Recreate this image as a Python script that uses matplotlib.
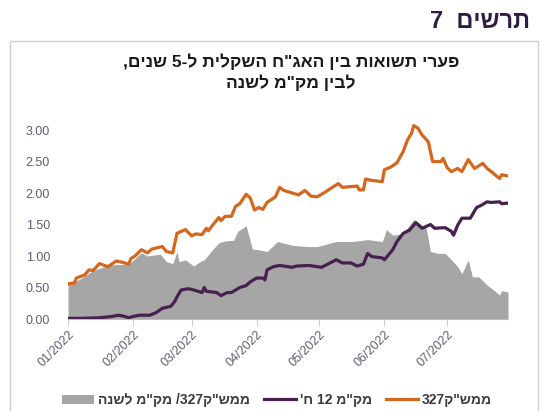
import matplotlib
matplotlib.use("Agg")
import matplotlib.pyplot as plt
import matplotlib.dates as mdates
from matplotlib.patches import Rectangle, Patch
from matplotlib.lines import Line2D
import pandas as pd

plt.rcParams['font.family'] = ['Liberation Sans', 'DejaVu Sans']

# ---- data ----
orange_dates = ["2022-01-01", "2022-01-04", "2022-01-05", "2022-01-09", "2022-01-11", "2022-01-13",
                "2022-01-16", "2022-01-20", "2022-01-24", "2022-01-27", "2022-01-30", "2022-01-31",
                "2022-02-02", "2022-02-05", "2022-02-08", "2022-02-10", "2022-02-15", "2022-02-17",
                "2022-02-20", "2022-02-22", "2022-02-26", "2022-03-01", "2022-03-03", "2022-03-06",
                "2022-03-08", "2022-03-09", "2022-03-11", "2022-03-14", "2022-03-15", "2022-03-17",
                "2022-03-20", "2022-03-22", "2022-03-24", "2022-03-27", "2022-03-29", "2022-03-31",
                "2022-04-02", "2022-04-04", "2022-04-06", "2022-04-10", "2022-04-12", "2022-04-14",
                "2022-04-21", "2022-04-24", "2022-04-27", "2022-04-30", "2022-05-04", "2022-05-10",
                "2022-05-12", "2022-05-19", "2022-05-20", "2022-05-22", "2022-05-23", "2022-05-26",
                "2022-05-31", "2022-06-01", "2022-06-04", "2022-06-07", "2022-06-10", "2022-06-12",
                "2022-06-14", "2022-06-15", "2022-06-17", "2022-06-19", "2022-06-22", "2022-06-24",
                "2022-06-28", "2022-06-29", "2022-07-01", "2022-07-03", "2022-07-06", "2022-07-08",
                "2022-07-11", "2022-07-14", "2022-07-18", "2022-07-20", "2022-07-22", "2022-07-26",
                "2022-07-27", "2022-07-30"]
orange_vals = [0.56, 0.57, 0.65, 0.70, 0.78, 0.77,
               0.88, 0.83, 0.92, 0.90, 0.87, 0.96,
               1.00, 1.10, 1.05, 1.11, 1.15, 1.07,
               1.05, 1.36, 1.42, 1.32, 1.35, 1.34,
               1.44, 1.40, 1.49, 1.61, 1.56, 1.63,
               1.63, 1.79, 1.83, 1.98, 1.92, 1.73,
               1.77, 1.74, 1.85, 1.94, 2.09, 2.04,
               1.97, 2.04, 1.95, 1.94, 2.02, 2.15,
               2.09, 2.11, 2.05, 2.05, 2.22, 2.20,
               2.18, 2.37, 2.41, 2.48, 2.66, 2.84,
               2.95, 3.07, 3.03, 2.92, 2.81, 2.50,
               2.50, 2.55, 2.40, 2.34, 2.39, 2.34,
               2.53, 2.39, 2.47, 2.39, 2.34, 2.23,
               2.29, 2.27]

purple_dates = ["2022-01-01", "2022-01-07", "2022-01-16", "2022-01-22", "2022-01-25", "2022-01-27",
                "2022-01-30", "2022-02-01", "2022-02-04", "2022-02-09", "2022-02-12", "2022-02-15",
                "2022-02-19", "2022-02-21", "2022-02-22", "2022-02-24", "2022-02-27", "2022-03-01",
                "2022-03-02", "2022-03-06", "2022-03-07", "2022-03-08", "2022-03-13", "2022-03-15",
                "2022-03-18", "2022-03-20", "2022-03-24", "2022-03-27", "2022-03-29", "2022-04-01",
                "2022-04-04", "2022-04-05", "2022-04-06", "2022-04-09", "2022-04-12", "2022-04-18",
                "2022-04-20", "2022-04-26", "2022-05-02", "2022-05-09", "2022-05-12", "2022-05-16",
                "2022-05-19", "2022-05-22", "2022-05-24", "2022-05-26", "2022-05-31", "2022-06-01",
                "2022-06-05", "2022-06-07", "2022-06-10", "2022-06-13", "2022-06-16", "2022-06-19",
                "2022-06-23", "2022-06-25", "2022-06-30", "2022-07-03", "2022-07-04", "2022-07-06",
                "2022-07-08", "2022-07-12", "2022-07-15", "2022-07-17", "2022-07-20", "2022-07-22",
                "2022-07-26", "2022-07-27", "2022-07-30"]
purple_vals = [0.01, 0.01, 0.02, 0.04, 0.06, 0.05,
               0.02, 0.04, 0.06, 0.06, 0.10, 0.17,
               0.20, 0.28, 0.35, 0.46, 0.48, 0.47,
               0.46, 0.42, 0.50, 0.44, 0.42, 0.37,
               0.42, 0.42, 0.50, 0.53, 0.59, 0.65,
               0.65, 0.62, 0.78, 0.83, 0.85, 0.82,
               0.84, 0.85, 0.82, 0.94, 0.89, 0.89,
               0.84, 0.87, 1.04, 0.99, 0.97, 0.94,
               1.10, 1.23, 1.36, 1.41, 1.53, 1.44,
               1.50, 1.44, 1.45, 1.39, 1.33, 1.49,
               1.60, 1.60, 1.77, 1.80, 1.86, 1.85,
               1.86, 1.83, 1.84]

gray_dates = ["2022-01-01", "2022-01-06", "2022-01-13", "2022-01-21", "2022-01-30", "2022-02-05",
              "2022-02-08", "2022-02-14", "2022-02-17", "2022-02-20", "2022-02-22", "2022-02-23",
              "2022-02-26", "2022-03-02", "2022-03-05", "2022-03-07", "2022-03-11", "2022-03-14",
              "2022-03-17", "2022-03-21", "2022-03-23", "2022-03-27", "2022-03-30", "2022-04-02",
              "2022-04-06", "2022-04-11", "2022-04-18", "2022-04-25", "2022-04-30", "2022-05-09",
              "2022-05-17", "2022-05-24", "2022-05-31", "2022-06-02", "2022-06-05", "2022-06-10",
              "2022-06-15", "2022-06-21", "2022-06-23", "2022-06-27", "2022-06-30", "2022-07-03",
              "2022-07-06", "2022-07-08", "2022-07-11", "2022-07-13", "2022-07-16", "2022-07-20",
              "2022-07-22", "2022-07-26", "2022-07-27", "2022-07-30"]
gray_vals = [0.55, 0.62, 0.77, 0.86, 0.87, 1.05,
             1.00, 1.03, 0.91, 0.88, 1.07, 0.91,
             0.94, 0.84, 0.91, 0.94, 1.10, 1.21,
             1.24, 1.25, 1.39, 1.48, 1.11, 1.10,
             1.07, 1.23, 1.17, 1.15, 1.15, 1.23,
             1.23, 1.26, 1.23, 1.42, 1.33, 1.36,
             1.58, 1.44, 1.07, 1.04, 1.04, 0.94,
             0.83, 0.72, 0.94, 0.67, 0.67, 0.54,
             0.49, 0.38, 0.45, 0.43]

yticks = [0.0, 0.5, 1.0, 1.5, 2.0, 2.5, 3.0]
month_ticks = ["2022-01-01", "2022-02-01", "2022-03-01", "2022-04-01",
               "2022-05-01", "2022-06-01", "2022-07-01"]

# Hebrew strings given in visual (left-to-right display) order
label_orange = "327ק\"שממ"
label_purple = "'ח 12 מ\"קמ"
label_gray = "הנשל מ\"קמ /327ק\"שממ"
title_main = "7  םישרת"
title_line1 = ",םינש 5-ל תילקשה ח\"גאה ןיב תואושת ירעפ"
title_line2 = "הנשל מ\"קמ ןיבל"

# ---- colours ----
c_orange = "#d5661e"
c_purple = "#46204f"
c_gray = "#a6a6a6"
c_tick = "#5a5f72"

W, H = 543, 411
fig = plt.figure(figsize=(W / 100, H / 100), dpi=100)

# frame around the chart
fig.patches.append(Rectangle((10 / W, -0.01), (538 - 10) / W, 1 - 41 / H + 0.01,
                             transform=fig.transFigure, fill=False,
                             edgecolor="#d0d0d0", linewidth=1.0))

fig.text(530 / W, 1 - 21 / H, title_main, ha="right", va="center",
         fontsize=17, fontweight="bold", color="#2f1c45")
fig.text(291 / W, 1 - 62 / H, title_line1, ha="center", va="center",
         fontsize=12.5, fontweight="bold", color="#1a1a1a")
fig.text(291 / W, 1 - 83 / H, title_line2, ha="center", va="center",
         fontsize=12.5, fontweight="bold", color="#1a1a1a")

ax_left, ax_right = 68, 508
y0_px, per_unit = 319, 63.0
ymax = 3.5
ax_bottom = 1 - y0_px / H
ax_height = ymax * per_unit / H
ax = fig.add_axes([ax_left / W, ax_bottom, (ax_right - ax_left) / W, ax_height])

gd = pd.to_datetime(gray_dates)
od = pd.to_datetime(orange_dates)
pdts = pd.to_datetime(purple_dates)

ax.fill_between(gd, 0, gray_vals, color=c_gray, linewidth=0, zorder=1)
ax.plot(pdts, purple_vals, color=c_purple, linewidth=2.3, zorder=3)
ax.plot(od, orange_vals, color=c_orange, linewidth=2.3, zorder=3)

ax.set_xlim(pd.Timestamp("2022-01-01"), pd.Timestamp("2022-07-30"))
ax.set_ylim(0, ymax)
ax.set_yticks(yticks)
ax.set_yticklabels([f"{v:.2f}" for v in yticks])
ax.set_xticks(pd.to_datetime(month_ticks))
ax.xaxis.set_major_formatter(mdates.DateFormatter("%m/%Y"))

for s in ["top", "right", "left"]:
    ax.spines[s].set_visible(False)
ax.spines["bottom"].set_color("#d0d0d0")
ax.spines["bottom"].set_zorder(0)
ax.tick_params(axis="y", length=0, pad=13, labelsize=9, labelcolor=c_tick)
ax.tick_params(axis="x", length=5, color="#d0d0d0", labelsize=9, labelcolor=c_tick, pad=2)
for lab in ax.get_xticklabels():
    lab.set_rotation(45)
    lab.set_ha("right")
    lab.set_rotation_mode("anchor")

handles = [Patch(facecolor=c_gray, edgecolor="none"),
           Line2D([], [], color=c_purple, linewidth=2.3),
           Line2D([], [], color=c_orange, linewidth=2.3)]
labels = [label_gray, label_purple, label_orange]
leg = fig.legend(handles, labels, loc="center", bbox_to_anchor=(277 / W, 1 - 400 / H),
                 ncol=3, frameon=False, handlelength=2.3, handleheight=0.6,
                 handletextpad=0.3, columnspacing=1.0,
                 prop={"weight": "bold", "size": 10})
for t in leg.get_texts():
    t.set_color("#3a3a3a")

fig.savefig("out.png", dpi=100)
